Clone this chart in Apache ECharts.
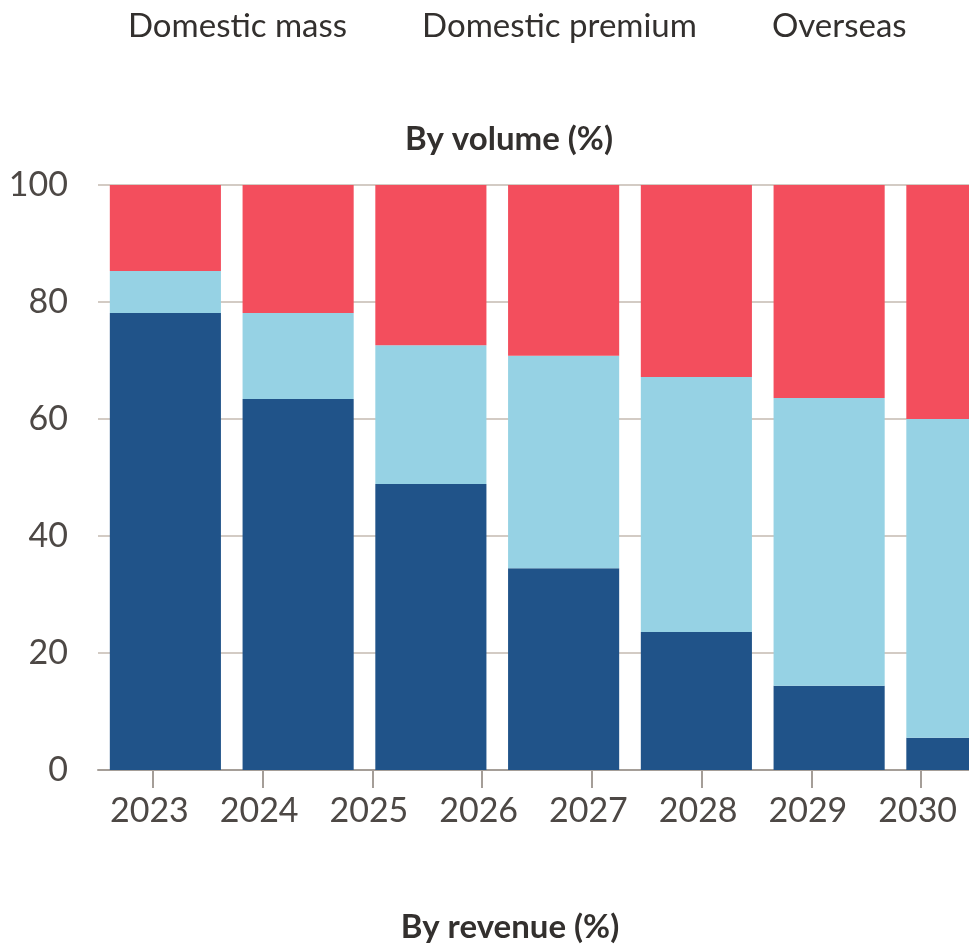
<!DOCTYPE html>
<html><head><meta charset="utf-8">
<script src="https://cdn.jsdelivr.net/npm/echarts@6/dist/echarts.min.js"></script>
<style>html,body{margin:0;padding:0;background:#fff}#c{width:969px;height:944px}</style>
</head><body><div id="c"></div>
<script>
const years = ['2023','2024','2025','2026','2027','2028','2029','2030'];
const domesticMass = [78.1, 63.4, 48.9, 34.5, 23.6, 14.4, 5.5];
const domesticPremium = [7.2, 14.7, 23.7, 36.3, 43.6, 49.2, 54.5];
const overseas = [14.7, 21.9, 27.4, 29.2, 32.8, 36.4, 40.0];
const yTicks = [0, 20, 40, 60, 80, 100];
const seriesNames = ['Domestic mass', 'Domestic premium', 'Overseas'];

const FONT = 'Lato';
const TXT = '#33302e';
const chart = echarts.init(document.getElementById('c'), null, {renderer: 'canvas'});
const gTop = 185, gBottom = 944 - 770;
chart.setOption({
  animation: false,
  textStyle: {fontFamily: FONT},
  color: ['#205389', '#96d2e4', '#f34e5d'],
  title: [
    {text: 'By volume (%)', left: 504, textAlign: 'center', top: 118,
     textStyle: {fontFamily: FONT, fontSize: 33, fontWeight: 'bold', color: TXT}},
    {text: 'By revenue (%)', left: 505, textAlign: 'center', top: 906,
     textStyle: {fontFamily: FONT, fontSize: 33, fontWeight: 'bold', color: TXT}}
  ],
  legend: {
    data: seriesNames, left: 118, top: 5, icon: 'none', itemWidth: 0, itemGap: 70,
    textStyle: {fontFamily: FONT, fontSize: 33, color: TXT, padding: 0}
  },
  grid: [
    {left: 99, top: gTop, bottom: gBottom, width: 1062, containLabel: false, outerBoundsMode: 'none'},
    {left: 98, top: gTop, bottom: gBottom, width: 878, containLabel: false, outerBoundsMode: 'none'}
  ],
  xAxis: [
    {type: 'category', gridIndex: 0, data: years, show: false},
    {type: 'category', gridIndex: 1, data: years, boundaryGap: true,
     axisLine: {show: true, lineStyle: {color: '#a59e98', width: 2}},
     axisTick: {show: true, alignWithLabel: true, length: 18, lineStyle: {color: '#a59e98', width: 2}},
     axisLabel: {fontFamily: FONT, fontSize: 34, color: '#4d4845', margin: 24, padding: [0, 7, 0, 0]}}
  ],
  yAxis: [
    {type: 'value', gridIndex: 0, min: 0, max: 100, interval: 20, show: false},
    {type: 'value', gridIndex: 1, min: 0, max: 100, interval: 20,
     axisLine: {show: false}, axisTick: {show: false},
     splitLine: {show: true, lineStyle: {color: '#d3cbc4', width: 2}},
     axisLabel: {fontFamily: FONT, fontSize: 34, color: '#4d4845', margin: 30,
       formatter: v => yTicks.includes(v) ? String(v) : ''}}
  ],
  series: [
    {name: seriesNames[0], type: 'bar', stack: 's', xAxisIndex: 0, yAxisIndex: 0, barCategoryGap: '16.3%', data: domesticMass},
    {name: seriesNames[1], type: 'bar', stack: 's', xAxisIndex: 0, yAxisIndex: 0, barCategoryGap: '16.3%', data: domesticPremium},
    {name: seriesNames[2], type: 'bar', stack: 's', xAxisIndex: 0, yAxisIndex: 0, barCategoryGap: '16.3%', data: overseas}
  ]
});
</script></body></html>
